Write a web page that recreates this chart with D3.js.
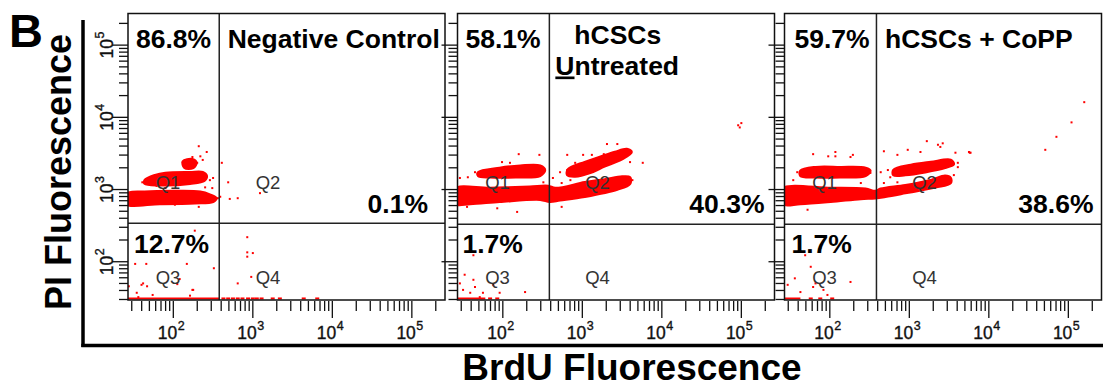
<!DOCTYPE html>
<html><head><meta charset="utf-8">
<script src="https://cdn.jsdelivr.net/npm/d3@7"></script>
<style>body{margin:0;background:#fff} svg{display:block}</style>
</head><body>
<svg id="c" width="1103" height="388"></svg>
<script>
// ---------------- DATA (events in [log10 BrdU, log10 PI]) ----------------
const panelTitles = ["Negative Control", "hCSCs Untreated", "hCSCs + CoPP"];
const q1Pct = ["86.8%", "58.1%", "59.7%"];
const q2Pct = ["0.1%", "40.3%", "38.6%"];
const q3Pct = ["12.7%", "1.7%", "1.7%"];
const quadNames = ["Q1", "Q2", "Q3", "Q4"];
const decadeExps = [2, 3, 4, 5];
const gateBrdU = [378, 385, 386];
const gatePI = [340, 331, 330];
const floorPI = 31;

// dense populations (outlines of the solid red clouds)
const dense1 = [
  [[1.40,2.94],[1.64,2.97],[2.02,2.98],[2.34,2.97],[2.46,2.93],[2.54,2.88],[2.50,2.83],[2.27,2.81],[1.83,2.80],[1.40,2.80]],
  [[1.64,3.13],[1.77,3.20],[1.90,3.23],[2.21,3.24],[2.37,3.24],[2.42,3.19],[2.39,3.12],[2.21,3.08],[1.83,3.06],[1.64,3.08]],
  [[2.12,3.39],[2.24,3.42],[2.29,3.37],[2.25,3.30],[2.14,3.30]]
];
const dense2 = [
  [[1.40,3.01],[1.84,3.02],[2.34,3.04],[2.57,3.05],[2.66,3.02],[3.03,3.10],[3.28,3.14],[3.50,3.18],[3.60,3.17],
   [3.60,3.08],[3.44,3.00],[3.03,2.90],[2.72,2.85],[2.59,2.83],[2.47,2.86],[1.96,2.83],[1.59,2.80],[1.40,2.80]],
  [[1.69,3.24],[1.96,3.30],[2.22,3.33],[2.47,3.33],[2.53,3.27],[2.47,3.19],[2.16,3.17],[1.84,3.17],[1.69,3.19]],
  [[2.82,3.28],[3.03,3.38],[3.22,3.45],[3.41,3.52],[3.56,3.56],[3.62,3.52],[3.50,3.42],[3.28,3.32],[3.10,3.23],[2.91,3.18],[2.81,3.20]]
];
const dense3 = [
  [[1.40,3.01],[2.01,3.02],[2.45,3.01],[2.57,2.98],[2.64,3.01],[2.95,3.06],[3.27,3.13],[3.45,3.19],[3.52,3.16],
   [3.52,3.09],[3.33,3.03],[2.95,2.95],[2.70,2.90],[2.57,2.88],[2.39,2.87],[2.01,2.83],[1.63,2.80],[1.40,2.80]],
  [[1.63,3.26],[1.82,3.31],[2.13,3.31],[2.45,3.30],[2.51,3.26],[2.45,3.19],[2.13,3.17],[1.82,3.17],[1.63,3.19]],
  [[2.80,3.27],[3.02,3.34],[3.27,3.38],[3.52,3.41],[3.56,3.35],[3.45,3.30],[3.20,3.24],[2.95,3.20],[2.80,3.20]]
];

// sparse events
const events1 = [
  [2.32,3.60],[2.42,3.52],[2.24,3.45],[2.17,3.37],[2.30,3.37],[2.12,3.38],[2.34,3.46],[2.37,3.41],[2.61,3.37],
  [2.69,3.10],[2.81,2.88],[2.71,2.87],[3.09,2.95],[2.32,2.76],[2.59,2.90],[2.56,2.88],[1.71,3.16],[1.61,3.10],
  [1.79,3.05],[1.90,3.02],[2.46,3.13],[2.49,3.02],[2.02,2.79],[2.40,3.03],[2.50,3.16],[2.27,2.43],
  [1.52,1.97],[1.66,1.97],[2.17,1.97],[2.51,1.91],[1.62,1.70],[1.67,1.66],[1.44,1.66],[1.54,1.57],[1.74,1.54],
  [2.24,1.61],[2.21,1.53],[1.56,1.51],[1.60,1.68],[2.08,1.76],[2.05,1.69],[2.25,1.61],
  [2.93,2.34],[2.93,2.13],[3.00,2.12],[2.93,2.07],[2.81,1.70],[2.98,1.79]
];
const events2 = [
  [2.20,3.49],[2.46,3.48],[2.81,3.48],[3.01,3.48],[3.12,3.48],[3.31,3.63],[3.44,3.63],[3.27,3.49],[3.39,3.45],
  [3.76,3.37],[3.63,3.13],[3.60,3.38],[2.72,3.24],[2.63,3.16],[2.74,2.76],[2.18,2.69],[1.93,2.74],[1.55,2.76],
  [1.65,3.24],[1.56,3.17],[1.46,3.16],[1.74,3.23],[1.99,3.38],[2.09,3.37],[2.44,3.23],[2.51,3.10],[2.81,3.27],
  [2.91,3.37],[3.13,3.38],[2.74,3.09],[2.85,3.13],[4.96,3.89],[4.98,3.86],[5.00,3.92],
  [1.63,2.09],[1.52,1.82],[1.46,1.70],[1.63,1.75],[1.50,1.61],[1.75,1.57],[1.88,1.68],[1.96,1.57],[2.28,1.58],
  [1.71,1.51],[1.59,1.57],[1.65,1.65]
];
const events3 = [
  [1.79,3.49],[1.98,3.46],[2.07,3.52],[2.07,3.46],[2.26,3.45],[2.29,3.48],[1.59,3.24],[1.54,3.13],[1.67,3.27],
  [2.39,3.09],[2.51,3.23],[2.39,3.24],[1.72,2.72],[2.68,3.53],[2.85,3.48],[2.98,3.55],[3.14,3.52],[3.22,3.67],
  [3.36,3.62],[3.42,3.64],[3.39,3.59],[3.58,3.51],[3.75,3.52],[3.77,3.51],[3.61,3.37],[3.61,3.31],[2.73,3.27],
  [2.76,3.17],[2.64,3.24],[2.85,3.10],[2.68,3.09],[2.89,3.27],[3.48,3.09],[3.56,3.20],
  [4.71,3.55],[4.85,3.73],[5.04,3.93],[5.20,4.21],[3.76,3.51],
  [1.69,2.09],[1.76,1.93],[1.88,2.19],[2.26,1.72],[1.47,1.68],[1.63,1.58],[1.79,1.65],[1.92,1.61],[1.97,1.54],
  [1.82,1.70],[1.56,1.77]
];
// events piled on the PI floor: continuous run [from, to] and single events (log10 BrdU)
const floorRuns = [[1.40, 2.58], [1.40, 1.78], [1.40, 1.63]];
const floorDots1 = [2.63,2.69,2.75,2.81,2.87,2.94,3.00,3.05,3.11,3.25,3.34,3.64,3.81];
const floorDots2 = [1.84, 1.93];
const floorDots3 = [1.76, 1.88, 2.03];

const denseAll = [dense1, dense2, dense3];
const eventsAll = [events1, events2, events3];
const floorDotsAll = [floorDots1, floorDots2, floorDots3];

// ---------------- LAYOUT ----------------
const FONT = "'Liberation Sans', Arial, sans-serif";
const NARROW = "'Liberation Sans Narrow', 'Liberation Sans', Arial, sans-serif";
const W = 317, TOP = 13.5, BOT = 300;
const lefts = [128, 457.5, 784.5];
const RED = "#ff0000";
const svg = d3.select("#c");

// Frame of figure
svg.append("line").attr("x1", 83).attr("x2", 83).attr("y1", 20).attr("y2", 347)
  .attr("stroke", "#000").attr("stroke-width", 3.5);
svg.append("line").attr("x1", 81.3).attr("x2", 1103).attr("y1", 345.5).attr("y2", 345.5)
  .attr("stroke", "#000").attr("stroke-width", 3.5);

svg.append("text").attr("x", 9).attr("y", 47).text("B")
  .attr("font-family", FONT).attr("font-weight", "bold").attr("font-size", 47);
svg.append("text").attr("transform", "translate(71,172) rotate(-90)").attr("text-anchor", "middle")
  .text("PI Fluorescence").attr("font-family", FONT).attr("font-weight", "bold").attr("font-size", 36);
svg.append("text").attr("x", 632).attr("y", 380).attr("text-anchor", "middle")
  .text("BrdU Fluorescence").attr("font-family", FONT).attr("font-weight", "bold").attr("font-size", 37);

const pow = v => Math.pow(10, v);
const pctLayout = [
  { q1x: 8, q2r: 17, q3x: 6 },
  { q1x: 8, q2r: 10, q3x: 5 },
  { q1x: 10, q2r: 8, q3x: 7 }
];

panelTitles.forEach((title, i) => {
  const L = lefts[i];
  const x = d3.scaleLog().domain([pow(1.43), pow(5.417)]).range([L, L + W]);
  const y = d3.scaleLog().domain([pow(1.47), pow(5.438)]).range([BOT, TOP]);
  const g = svg.append("g");

  const clipId = "clip" + i;
  svg.append("clipPath").attr("id", clipId).append("rect")
    .attr("x", L).attr("y", TOP).attr("width", W).attr("height", BOT - TOP);
  const plot = g.append("g").attr("clip-path", `url(#${clipId})`);

  const line = d3.line().x(d => x(pow(d[0]))).y(d => y(pow(d[1])))
    .curve(d3.curveCatmullRomClosed.alpha(0.5));
  plot.selectAll("path.dense").data(denseAll[i]).join("path")
    .attr("d", line).attr("fill", RED).attr("stroke", RED).attr("stroke-width", 2.5)
    .attr("stroke-linejoin", "round");

  plot.selectAll("rect.ev").data(eventsAll[i]).join("rect")
    .attr("x", d => x(pow(d[0])) - 1).attr("y", d => y(pow(d[1])) - 1)
    .attr("width", 2).attr("height", 2).attr("fill", RED);

  const fr = floorRuns[i];
  plot.append("line").attr("x1", x(pow(fr[0]))).attr("x2", x(pow(fr[1])))
    .attr("y1", y(floorPI)).attr("y2", y(floorPI)).attr("stroke", RED).attr("stroke-width", 2);
  plot.selectAll("rect.fl").data(floorDotsAll[i]).join("rect")
    .attr("x", d => x(pow(d)) - 2).attr("y", y(floorPI) - 1)
    .attr("width", 4).attr("height", 2).attr("fill", RED);

  // quadrant gates
  g.append("line").attr("x1", x(gateBrdU[i])).attr("x2", x(gateBrdU[i])).attr("y1", TOP).attr("y2", BOT)
    .attr("stroke", "#222").attr("stroke-width", 1.5);
  g.append("line").attr("x1", L).attr("x2", L + W).attr("y1", y(gatePI[i])).attr("y2", y(gatePI[i]))
    .attr("stroke", "#222").attr("stroke-width", 1.5);

  // box
  g.append("rect").attr("x", L).attr("y", TOP).attr("width", W).attr("height", BOT - TOP)
    .attr("fill", "none").attr("stroke", "#111").attr("stroke-width", 1.5);

  // y ticks
  const isMajor = v => Math.abs(Math.log10(v) - Math.round(Math.log10(v))) < 1e-6;
  g.selectAll("line.yt").data(y.ticks()).join("line")
    .attr("x1", d => L - (isMajor(d) ? 16 : 9)).attr("x2", L)
    .attr("y1", d => y(d)).attr("y2", d => y(d)).attr("stroke", "#111").attr("stroke-width", 1.3);
  // x ticks
  g.selectAll("line.xt").data(x.ticks()).join("line")
    .attr("y1", BOT + 1).attr("y2", d => BOT + (isMajor(d) ? 18 : 11))
    .attr("x1", d => x(d)).attr("x2", d => x(d)).attr("stroke", "#111").attr("stroke-width", 1.3);

  const tickText = sel => sel.attr("font-family", NARROW).attr("fill", "#111")
    .attr("stroke", "#111").attr("stroke-width", 0.35);
  // x tick labels
  decadeExps.forEach(e => {
    const px = x(pow(e));
    tickText(g.append("text").attr("x", px + 4).attr("y", 338.5).attr("text-anchor", "end").text("10")
      .attr("font-size", 17.5));
    tickText(g.append("text").attr("x", px + 4.5).attr("y", 330).text(e).attr("font-size", 12.5));
  });
  // y tick labels (first panel only)
  if (i === 0) {
    decadeExps.forEach(e => {
      const t = g.append("g").attr("transform", `translate(112.5,${y(pow(e))}) rotate(-90)`);
      tickText(t.append("text").attr("x", 6).attr("y", 0).attr("text-anchor", "end").text("10")
        .attr("font-size", 17.5));
      tickText(t.append("text").attr("x", 6.5).attr("y", -9).text(e).attr("font-size", 12.5));
    });
  }

  // quadrant names
  const qpos = [[L + 40, 188.5], [L + 140, 188.5], [L + 40, 283.5], [L + 140, 283.5]];
  quadNames.forEach((q, k) => {
    g.append("text").attr("x", qpos[k][0]).attr("y", qpos[k][1]).attr("text-anchor", "middle")
      .text(q).attr("font-family", FONT).attr("font-size", 18.5).attr("fill", "#333");
  });

  // percentages
  const big = sel => sel.attr("font-family", FONT).attr("font-weight", "bold").attr("font-size", 26.5).attr("fill", "#000");
  big(g.append("text").attr("x", L + pctLayout[i].q1x).attr("y", 47.5).text(q1Pct[i]));
  big(g.append("text").attr("x", L + W - pctLayout[i].q2r).attr("y", 212.5).attr("text-anchor", "end").text(q2Pct[i]));
  big(g.append("text").attr("x", L + pctLayout[i].q3x).attr("y", 252.5).text(q3Pct[i]));

  // titles
  const gx = x(gateBrdU[i]);
  if (i === 1) {
    const words = title.split(" ");
    big(g.append("text").attr("x", gx + 25).attr("y", 43.5).text(words[0]));
    const t2 = big(g.append("text").attr("x", gx + 6).attr("y", 74.5));
    t2.append("tspan").attr("text-decoration", "underline").text(words[1][0]);
    t2.append("tspan").text(words[1].slice(1));
  } else {
    big(g.append("text").attr("x", gx + 8.5).attr("y", 47.5).text(title));
  }
});
</script>
</body></html>
